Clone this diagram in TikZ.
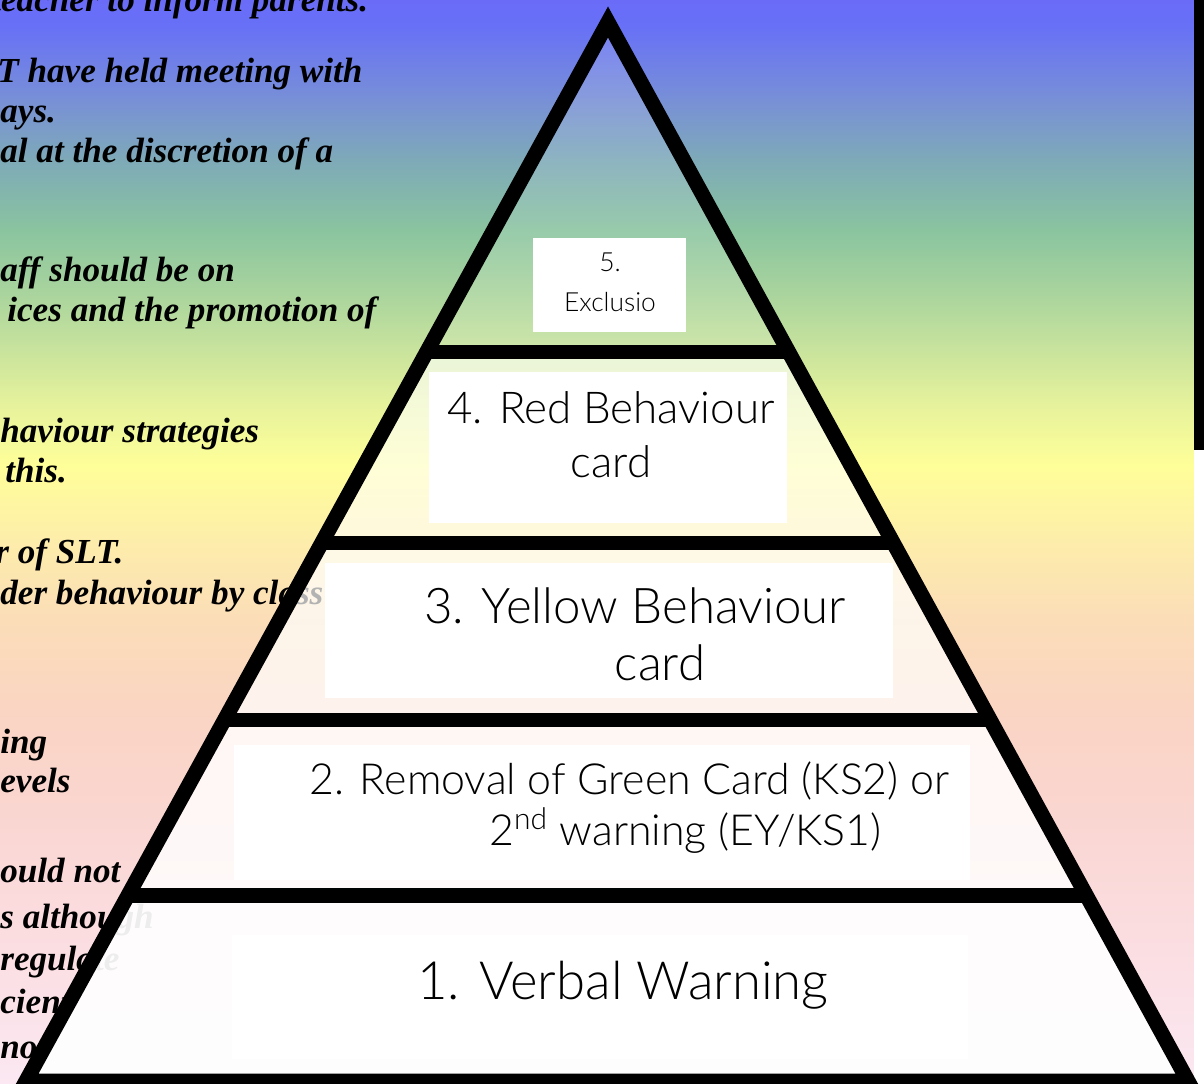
\documentclass[tikz,border=0pt]{standalone}
\usepackage{fontspec}
\newfontfamily\cardfont{Lato}[UprightFont={* Light}]
\newfontfamily\notesfont{Liberation Serif}
\usetikzlibrary{calc}

\definecolor{bgA}{HTML}{6A6CF8}
\definecolor{bgB}{HTML}{6770F7}
\definecolor{bgC}{HTML}{7890D6}
\definecolor{bgD}{HTML}{7EAAB8}
\definecolor{bgE}{HTML}{8AC49F}
\definecolor{bgF}{HTML}{ADD69D}
\definecolor{bgG}{HTML}{E4F19C}
\definecolor{bgH}{HTML}{FFFF99}
\definecolor{bgI}{HTML}{FDEDAA}
\definecolor{bgJ}{HTML}{FBDDB8}
\definecolor{bgK}{HTML}{FAD4C4}
\definecolor{bgL}{HTML}{FAD6D2}
\definecolor{bgM}{HTML}{FBDEE2}
\definecolor{bgN}{HTML}{FBE8F2}

\newcommand{\notefont}{\notesfont\fontsize{20}{23}\selectfont\bfseries\itshape}

\tikzset{
  edge/.style={line width=8.5pt, line join=miter, miter limit=10},
  note/.style={anchor=base west, inner sep=0pt, font=\notefont},
  cardbox/.style={fill=white, draw=none, inner sep=0pt},
  cardtext/.style={align=center, inner sep=0pt},
}

\begin{document}
\begin{tikzpicture}[x=0.02cm,y=-0.02cm]
    \useasboundingbox (0,0) rectangle (1204,1084);
    \clip (0,0) rectangle (1204,1084);

    % background
    \foreach \ya/\yb/\ca/\cb in {0/25/bgA/bgB, 25/100/bgB/bgC, 100/160/bgC/bgD,
        160/230/bgD/bgE, 230/300/bgE/bgF, 300/400/bgF/bgG, 400/465/bgG/bgH,
        465/540/bgH/bgI, 540/620/bgI/bgJ, 620/720/bgJ/bgK, 720/820/bgK/bgL,
        820/950/bgL/bgM, 950/1084/bgM/bgN}
        \shade[top color=\ca, bottom color=\cb] (0,\ya) rectangle (1194,\yb+1);
    \fill[black] (1194,0) rectangle (1204,450);
    \fill[white] (1194,450) rectangle (1204,1084);

    % notes on the left
    \foreach \xs/\yb/\txt [count=\i] in {-9/12/teacher to inform parents.,
        -3/83/T have held meeting with, 0/123/ays.,
        0/163/al at the discretion of a, 0/282/aff should be on,
        7/322/ices and the promotion of, 0/443/haviour strategies,
        5/482/this., -5/563/r of SLT., 0/604/der behaviour by class,
        0/753/ing, 0/792/evels, 0/882/ould not, 0/928/s although,
        0/970/regulate, 0/1013/cient, 0/1058/no}
        \node[note] (note\i) at (\xs,\yb) {\txt};

    % pyramid
    \coordinate (apex) at (608,22);
    \coordinate (bl) at (26,1081);
    \coordinate (br) at (1188,1081);
    \foreach \t [count=\i] in {0.3116,0.4920,0.6591,0.8244} {
        \coordinate (l\i) at ($(apex)!\t!(bl)$);
        \coordinate (r\i) at ($(apex)!\t!(br)$);
    }

    \fill[white, fill opacity=0.12] (apex) -- (l1) -- (r1) -- cycle;
    \fill[white, fill opacity=0.6] (l1) -- (l2) -- (r2) -- (r1) -- cycle;
    \fill[white, fill opacity=0.7] (l2) -- (l3) -- (r3) -- (r2) -- cycle;
    \fill[white, fill opacity=0.82] (l3) -- (l4) -- (r4) -- (r3) -- cycle;
    \fill[white, fill opacity=0.93] (l4) -- (bl) -- (br) -- (r4) -- cycle;

    % cards
    \node[cardbox, minimum width=3.06cm, minimum height=1.88cm] (box5) at (609.5,285) {};
    \node[cardbox, minimum width=7.16cm, minimum height=3.02cm] (box4) at (608,447.5) {};
    \node[cardbox, minimum width=11.36cm, minimum height=2.70cm] (box3) at (609,630.5) {};
    \node[cardbox, minimum width=14.72cm, minimum height=2.70cm] (box2) at (602,812.5) {};
    \node[cardbox, minimum width=14.72cm, minimum height=2.50cm] (box1) at (600,997) {};

    \node[cardtext, font=\cardfont\fontsize{15}{22.8}\selectfont] (lab5) at (610,282) {5.\\Exclusio};
    \node[cardtext, font=\cardfont\fontsize{25}{30.7}\selectfont] (lab4) at (611,435) {4. Red Behaviour\\card};
    \node[cardtext, font=\cardfont\fontsize{28}{32.4}\selectfont] (lab3) at (635,634) {3. Yellow Behaviour\\\hspace*{1cm}card};
    \node[cardtext, font=\cardfont\fontsize{24.4}{29}\selectfont] (lab2) at (629.5,808) {2. Removal of Green Card (KS2) or\\\hspace*{2.24cm}2\textsuperscript{nd} warning (EY/KS1)};
    \node[cardtext, font=\cardfont\fontsize{30}{36}\selectfont] (lab1) at (623,985) {1. Verbal Warning};

    % outline
    \draw[edge] (apex) -- (bl) -- (br) -- cycle;
    \foreach \i in {1,...,4}
        \draw[edge] (l\i) -- (r\i);
\end{tikzpicture}
\end{document}
